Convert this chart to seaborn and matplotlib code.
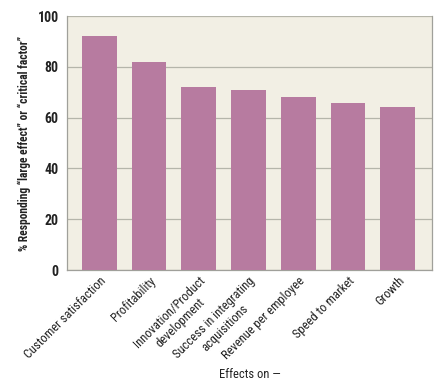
import matplotlib
matplotlib.use('Agg')
import matplotlib.pyplot as plt
import seaborn as sns

categories = ['Customer satisfaction', 'Profitability', 'Innovation/Product\ndevelopment',
              'Success in integrating\nacquisitions', 'Revenue per employee',
              'Speed to market', 'Growth']
values = [92.3, 82.1, 72.0, 70.9, 68.2, 65.8, 64.2]
yticks = [0, 20, 40, 60, 80, 100]

sns.set_theme(style='white')
plt.rcParams['font.family'] = ['Roboto Condensed', 'DejaVu Sans']

fig, ax = plt.subplots(figsize=(4.44, 3.82), dpi=100)
fig.subplots_adjust(left=0.151, right=0.973, top=0.958, bottom=0.293)
ax.set_facecolor('#F2EFE4')

sns.barplot(x=categories, y=values, color='#B77BA0', saturation=1, width=0.7,
            linewidth=0, ax=ax, zorder=3)

ax.set_ylim(0, 100)
ax.set_xlim(-0.65, 6.69)
ax.set_yticks(yticks)
ax.grid(axis='y', color='#B5B5AA', linewidth=0.9, zorder=0)
for s in ax.spines.values():
    s.set_color('#A0A09A')
    s.set_linewidth(0.9)
ax.spines['top'].set_visible(False)

ax.tick_params(axis='y', length=0, labelsize=10, pad=6, labelcolor='#222222')
ax.tick_params(axis='x', length=0, labelsize=9, pad=3, labelcolor='#222222')
for lab in ax.get_yticklabels():
    lab.set_fontweight('bold')
plt.setp(ax.get_xticklabels(), rotation=45, ha='right', rotation_mode='anchor',
         multialignment='center')

ax.set_ylabel('% Responding \u201clarge effect\u201d or \u201ccritical factor\u201d',
              fontsize=8.3, fontweight='bold', color='#222222')
ax.yaxis.set_label_coords(-0.098, 0.5)
ax.set_xlabel('Effects on \u2014', fontsize=9, color='#222222')
ax.xaxis.set_label_coords(0.5, -0.385)

fig.savefig('out.png', dpi=100)
